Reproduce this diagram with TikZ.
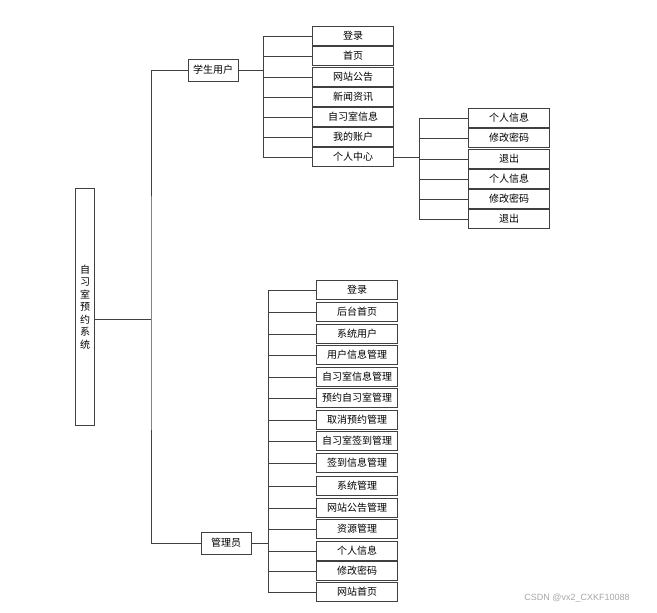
\documentclass[tikz,border=0pt]{standalone}
\usepackage{fontspec}
\newfontfamily\cjk{Noto Sans CJK SC}
\usepackage{tikz}
\usepackage{xcolor}

\tikzset{
  box/.style={draw=black!75, line width=1pt, fill=white, inner sep=0pt,
    font=\cjk\fontsize{10}{11}\selectfont},
  leaf/.style={box, minimum width=81, minimum height=19},
  role/.style={box, minimum width=50, minimum height=22},
  link/.style={draw=black!75, line width=0.9pt}
}

\begin{document}
\begin{tikzpicture}[x=1pt, y=-1pt]
\useasboundingbox (0,0) rectangle (657,613);

% Root
\node[box, minimum width=19, minimum height=237, align=center,
  font=\cjk\fontsize{10}{12.5}\selectfont] (root) at (85,307)
  {自\\习\\室\\预\\约\\系\\统};

% Roles
\node[role] (student) at (213,70) {学生用户};
\node[role] (admin) at (226,543) {管理员};

% Student pages
\node[leaf] (s1) at (353,36) {登录};
\node[leaf] (s2) at (353,56) {首页};
\node[leaf] (s3) at (353,77) {网站公告};
\node[leaf] (s4) at (353,97) {新闻资讯};
\node[leaf] (s5) at (353,117) {自习室信息};
\node[leaf] (s6) at (353,137) {我的账户};
\node[leaf] (s7) at (353,157) {个人中心};

% Personal center pages
\node[leaf] (p1) at (509,118) {个人信息};
\node[leaf] (p2) at (509,138) {修改密码};
\node[leaf] (p3) at (509,159) {退出};
\node[leaf] (p4) at (509,179) {个人信息};
\node[leaf] (p5) at (509,199) {修改密码};
\node[leaf] (p6) at (509,219) {退出};

% Admin pages
\node[leaf] (a1) at (357,290) {登录};
\node[leaf] (a2) at (357,312) {后台首页};
\node[leaf] (a3) at (357,334) {系统用户};
\node[leaf] (a4) at (357,355) {用户信息管理};
\node[leaf] (a5) at (357,377) {自习室信息管理};
\node[leaf] (a6) at (357,398) {预约自习室管理};
\node[leaf] (a7) at (357,420) {取消预约管理};
\node[leaf] (a8) at (357,441) {自习室签到管理};
\node[leaf] (a9) at (357,463) {签到信息管理};
\node[leaf] (a10) at (357,486) {系统管理};
\node[leaf] (a11) at (357,508) {网站公告管理};
\node[leaf] (a12) at (357,529) {资源管理};
\node[leaf] (a13) at (357,551) {个人信息};
\node[leaf] (a14) at (357,571) {修改密码};
\node[leaf] (a15) at (357,592) {网站首页};

% Bus points
\coordinate (rootjoin) at (151,319);
\coordinate (sbus) at (263,70);
\coordinate (pbus) at (419,157);
\coordinate (abus) at (268,543);

% Trunk
\draw[link] (root.east |- rootjoin) -- (rootjoin);
\draw[link] (student.west) -| (rootjoin) |- (admin.west);

% Student branch
\draw[link] (student.east) -- (sbus);
\draw[link] (s1.west) -| (sbus);
\draw[link] (s2.west) -| (sbus);
\draw[link] (s3.west) -| (sbus);
\draw[link] (s4.west) -| (sbus);
\draw[link] (s5.west) -| (sbus);
\draw[link] (s6.west) -| (sbus);
\draw[link] (s7.west) -| (sbus);

% Personal center branch
\draw[link] (s7.east) -- (pbus);
\draw[link] (p1.west) -| (pbus);
\draw[link] (p2.west) -| (pbus);
\draw[link] (p3.west) -| (pbus);
\draw[link] (p4.west) -| (pbus);
\draw[link] (p5.west) -| (pbus);
\draw[link] (p6.west) -| (pbus);

% Admin branch
\draw[link] (admin.east) -- (abus);
\draw[link] (a1.west) -| (abus);
\draw[link] (a2.west) -| (abus);
\draw[link] (a3.west) -| (abus);
\draw[link] (a4.west) -| (abus);
\draw[link] (a5.west) -| (abus);
\draw[link] (a6.west) -| (abus);
\draw[link] (a7.west) -| (abus);
\draw[link] (a8.west) -| (abus);
\draw[link] (a9.west) -| (abus);
\draw[link] (a10.west) -| (abus);
\draw[link] (a11.west) -| (abus);
\draw[link] (a12.west) -| (abus);
\draw[link] (a13.west) -| (abus);
\draw[link] (a14.west) -| (abus);
\draw[link] (a15.west) -| (abus);

% Watermark
\node[text=black!35, font=\fontspec{Liberation Sans}\fontsize{9}{10}\selectfont] (mark) at (577,598) {CSDN @vx2\_CXKF10088};
\end{tikzpicture}
\end{document}
